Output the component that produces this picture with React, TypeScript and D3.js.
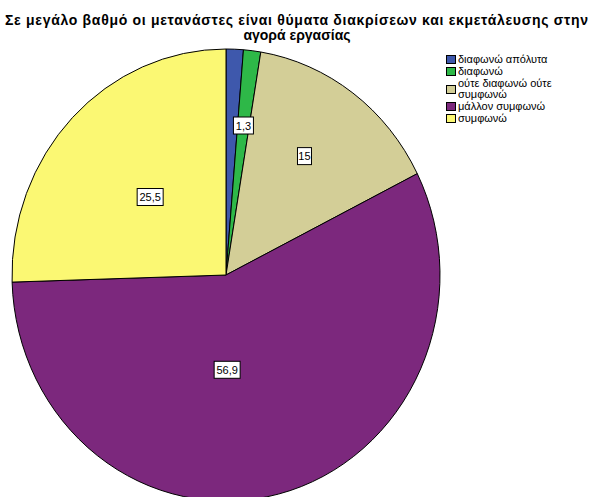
import React from "react";
import * as d3 from "d3";

const categories = ["διαφωνώ απόλυτα", "διαφωνώ", "ούτε διαφωνώ ούτε συμφωνώ", "μάλλον συμφωνώ", "συμφωνώ"];
const legendLines = [["διαφωνώ απόλυτα"], ["διαφωνώ"], ["ούτε διαφωνώ ούτε", "συμφωνώ"], ["μάλλον συμφωνώ"], ["συμφωνώ"]];
const values = [1.3, 1.3, 15, 56.9, 25.5];
const valueLabels = ["1,3", "1,3", "15", "56,9", "25,5"];
const colors = ["#3E58AC", "#2EB848", "#D3CE97", "#7C287D", "#FBF873"];
const titleLines = ["Σε μεγάλο βαθμό οι μετανάστες είναι θύματα διακρίσεων και εκμετάλευσης στην", "αγορά εργασίας"];

// layout
const W = 592, H = 497;
const cx = 226, cy = 275, rx = 214, ry = 226;
const labelNudge: Record<number, [number, number]> = { 3: [-18, 15], 4: [16, 16], 2: [-3, -2] };
const FONT = "'Liberation Sans', Arial, sans-serif";
const LEG_LINE = 11.8;

export default function App() {
  const pie = d3.pie<number>().sort(null).value((d) => d);
  const arcs = pie(values);
  const arc = d3.arc<d3.PieArcDatum<number>>().innerRadius(0).outerRadius(rx);

  // labels: sector centroid radius, skip overlapping
  const placed: { x: number; y: number; w: number; h: number; i: number }[] = [];
  for (let i = arcs.length - 1; i >= 0; i--) {
    const a = arcs[i];
    const th = a.endAngle - a.startAngle;
    const rf = (2 * Math.sin(th / 2)) / (3 * (th / 2));
    const mid = (a.startAngle + a.endAngle) / 2;
    const n = labelNudge[i] || [0, 0];
    const x = cx + rx * rf * Math.sin(mid) + n[0];
    const y = cy - ry * rf * Math.cos(mid) + n[1];
    const w = valueLabels[i].length * 6 + 2;
    const h = 17;
    const overlap = placed.some((p) => Math.abs(p.x - x) < (p.w + w) / 2 && Math.abs(p.y - y) < (p.h + h) / 2);
    if (!overlap) placed.push({ x, y, w, h, i });
  }

  let lineIdx = 0;
  const legendRows = legendLines.map((lines, i) => {
    const baselines = lines.map((_, k) => 63 + LEG_LINE * (lineIdx + k));
    lineIdx += lines.length;
    const mid = (baselines[0] + baselines[baselines.length - 1]) / 2;
    return { lines, i, baselines, swatchTop: mid - 8 };
  });

  return (
    <svg width={W} height={H} style={{ position: "absolute", left: 0, top: 0, background: "#fff" }} fontFamily={FONT}>
      <rect x={0} y={0} width={W} height={H} fill="#fff" />
      <g fontWeight="bold" fontSize={14} textAnchor="middle" fill="#000">
        <text x={296.5} y={25} textLength={583} lengthAdjust="spacing">{titleLines[0]}</text>
        <text x={297} y={39.5}>{titleLines[1]}</text>
      </g>
      <g transform={`translate(${cx},${cy}) scale(1,${ry / rx})`}>
        {arcs.map((a, i) => (
          <path key={i} d={arc(a) || ""} fill={colors[i]} stroke="#000" strokeWidth={1} vectorEffect="non-scaling-stroke" />
        ))}
      </g>
      <g fontSize={11}>
        {placed.map((p) => (
          <g key={p.i}>
            <rect x={p.x - p.w / 2} y={p.y - p.h / 2} width={p.w} height={p.h} fill="#fff" stroke="#000" strokeWidth={1} />
            <text x={p.x} y={p.y + 4} textAnchor="middle" fill="#000">{valueLabels[p.i]}</text>
          </g>
        ))}
      </g>
      <g fontSize={11}>
        {legendRows.map((r) => (
          <g key={r.i}>
            <rect x={446.5} y={Math.round(r.swatchTop) + 0.5} width={9} height={8} fill={colors[r.i]} stroke="#000" strokeWidth={1} />
            {r.lines.map((t, k) => (
              <text key={k} x={458} y={r.baselines[k]}>{t}</text>
            ))}
          </g>
        ))}
      </g>
    </svg>
  );
}
